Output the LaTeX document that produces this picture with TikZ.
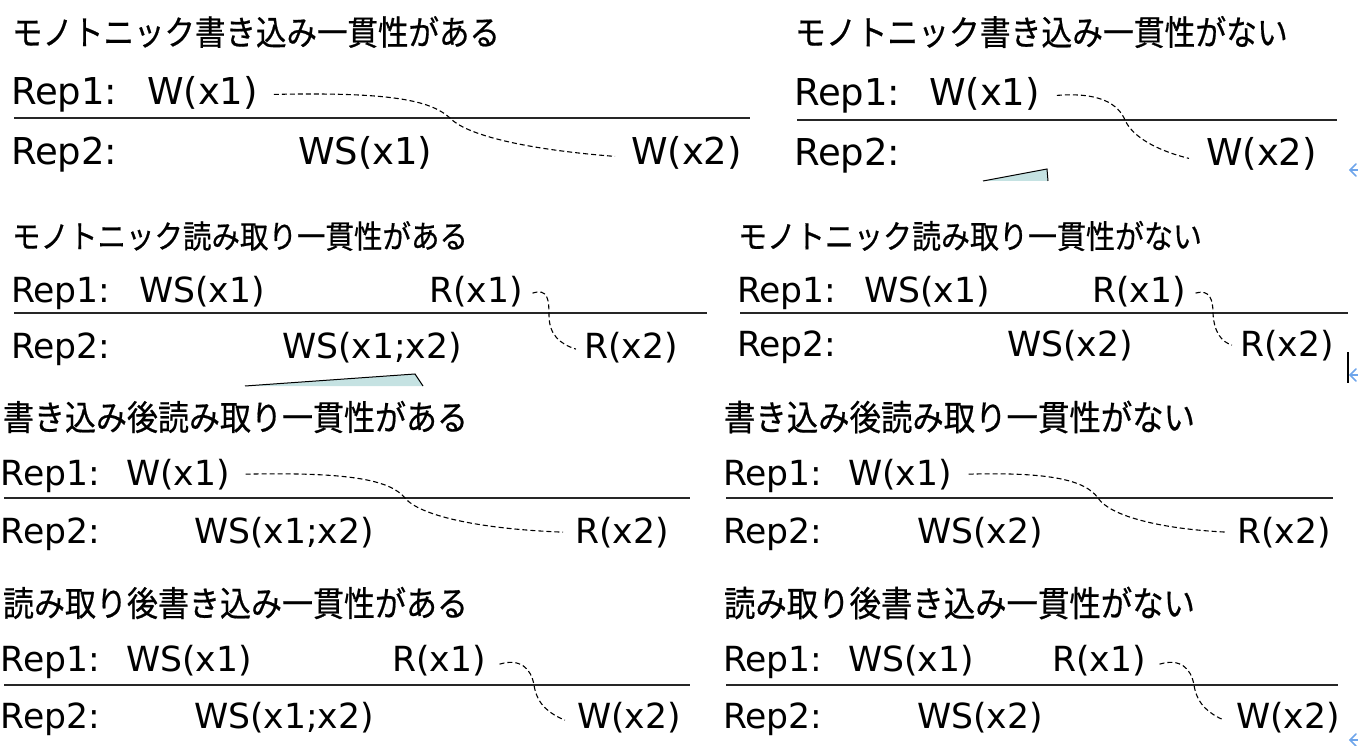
\documentclass[tikz,border=0pt]{standalone}
\usepackage{fontspec}
\setmainfont{DejaVu Sans}
\newfontfamily\jpfont[FakeBold=0.6]{Noto Sans CJK JP}
\definecolor{tealfill}{RGB}{197,226,226}
\definecolor{anchorblue}{RGB}{110,165,235}
\tikzset{
  lbl/.style={anchor=base west,inner sep=0pt,outer sep=0pt,font=\fontsize{34.6}{36}\selectfont},
  lblbig/.style={anchor=base west,inner sep=0pt,outer sep=0pt,font=\fontsize{37}{40}\selectfont},
  ttl/.style={anchor=west,inner sep=0pt,outer sep=0pt},
  sep/.style={line width=1.5pt,color=black!85},
  dsh/.style={line width=1.1pt,dash pattern=on 5pt off 3pt},
  wedge/.style={fill=tealfill},
  wedgeline/.style={line width=1pt}
}
\newcommand{\jt}[2]{\scalebox{1}[1.12]{\jpfont\fontsize{#1}{#1}\selectfont #2}}
\begin{document}
\begin{tikzpicture}[x=1pt,y=-1pt]
\useasboundingbox (0,0) rectangle (1358,746);

% ---------- Panel 1 ----------
\node[ttl] (t1) at (12,32) {\jt{30.5}{モノトニック書き込み一貫性がある}};
\node[lblbig] (p1r1) at (11,105) {Rep1:};
\node[lblbig] (p1w1) at (147,105) {W(x1)};
\node[lblbig] (p1r2) at (11,165) {Rep2:};
\node[lblbig] (p1ws) at (298,165) {WS(x1)};
\node[lblbig] (p1w2) at (631,165) {W(x2)};
\coordinate (p1a) at (14,118); \coordinate (p1b) at (750,118);
\draw[sep] (p1a) -- (p1b);
\draw[dsh] ([xshift=16pt,yshift=-1pt]p1w1.east) .. controls (390,92) and (430,100) .. (450,118)
  .. controls (465,134) and (520,149) .. ([xshift=-16pt,yshift=-3pt]p1w2.west);

% ---------- Panel 2 ----------
\node[ttl] (t2) at (795,32) {\jt{30.8}{モノトニック書き込み一貫性がない}};
\node[lblbig] (p2r1) at (794,106) {Rep1:};
\node[lblbig] (p2w1) at (929,106) {W(x1)};
\node[lblbig] (p2r2) at (794,166) {Rep2:};
\node[lblbig] (p2w2) at (1206,166) {W(x2)};
\coordinate (p2a) at (797,120); \coordinate (p2b) at (1337,120);
\draw[sep] (p2a) -- (p2b);
\draw[dsh] ([xshift=17pt,yshift=-1pt]p2w1.east) .. controls (1100,92) and (1118,104) .. (1125,120)
  .. controls (1132,136) and (1155,150) .. ([xshift=-17pt,yshift=-4pt]p2w2.west);
\fill[wedge] (983,181) -- (1047,169) -- (1048,181) -- cycle;
\draw[wedgeline] (983,181) -- (1047,169) -- (1048,181);

% ---------- Panel 3 ----------
\node[ttl] (t3) at (12,236) {\jt{28.5}{モノトニック読み取り一貫性がある}};
\node[lbl] (p3r1) at (11,302) {Rep1:};
\node[lbl] (p3ws1) at (139,302) {WS(x1)};
\node[lbl] (p3rx1) at (429,302) {R(x1)};
\node[lbl] (p3r2) at (11,358) {Rep2:};
\node[lbl] (p3ws2) at (282,358) {WS(x1;x2)};
\node[lbl] (p3rx2) at (584,358) {R(x2)};
\coordinate (p3a) at (14,313); \coordinate (p3b) at (707,313);
\draw[sep] (p3a) -- (p3b);
\draw[dsh] ([xshift=10pt,yshift=-2pt]p3rx1.east) .. controls (548,288) and (549,300) .. (549,315)
  .. controls (549,335) and (560,344) .. ([xshift=-8pt,yshift=-2pt]p3rx2.west);
\fill[wedge] (245,386) -- (415,374) -- (423,386) -- cycle;
\draw[wedgeline] (245,386) -- (415,374) -- (423,386);

% ---------- Panel 4 ----------
\node[ttl] (t4) at (738,236) {\jt{29}{モノトニック読み取り一貫性がない}};
\node[lbl] (p4r1) at (737,302) {Rep1:};
\node[lbl] (p4ws1) at (864,302) {WS(x1)};
\node[lbl] (p4rx1) at (1092,302) {R(x1)};
\node[lbl] (p4r2) at (737,356) {Rep2:};
\node[lbl] (p4ws2) at (1007,356) {WS(x2)};
\node[lbl] (p4rx2) at (1240,356) {R(x2)};
\coordinate (p4a) at (740,313); \coordinate (p4b) at (1348,313);
\draw[sep] (p4a) -- (p4b);
\draw[dsh] ([xshift=10pt,yshift=-2pt]p4rx1.east) .. controls (1210,289) and (1213,300) .. (1213,313)
  .. controls (1214,333) and (1222,342) .. ([xshift=-8pt]p4rx2.west);
\coordinate (cur1) at (1348,352); \coordinate (cur2) at (1348,383);
\draw[line width=1.6pt] (cur1) -- (cur2);

% ---------- Panel 5 ----------
\node[ttl] (t5) at (3,417) {\jt{31}{書き込み後読み取り一貫性がある}};
\node[lbl] (p5r1) at (1,485) {Rep1:};
\node[lbl] (p5w1) at (126,485) {W(x1)};
\node[lbl] (p5r2) at (1,543) {Rep2:};
\node[lbl] (p5ws) at (194,543) {WS(x1;x2)};
\node[lbl] (p5rx2) at (575,543) {R(x2)};
\coordinate (p5a) at (4,498); \coordinate (p5b) at (690,498);
\draw[sep] (p5a) -- (p5b);
\draw[dsh] ([xshift=16pt]p5w1.east) .. controls (350,472) and (390,480) .. (405,498)
  .. controls (420,516) and (480,529) .. ([xshift=-12pt]p5rx2.west);

% ---------- Panel 6 ----------
\node[ttl] (t6) at (724,417) {\jt{31.4}{書き込み後読み取り一貫性がない}};
\node[lbl] (p6r1) at (723,485) {Rep1:};
\node[lbl] (p6w1) at (848,485) {W(x1)};
\node[lbl] (p6r2) at (723,543) {Rep2:};
\node[lbl] (p6ws) at (917,543) {WS(x2)};
\node[lbl] (p6rx2) at (1237,543) {R(x2)};
\coordinate (p6a) at (726,498); \coordinate (p6b) at (1333,498);
\draw[sep] (p6a) -- (p6b);
\draw[dsh] ([xshift=17pt]p6w1.east) .. controls (1050,472) and (1085,480) .. (1098,498)
  .. controls (1110,516) and (1160,529) .. ([xshift=-10pt]p6rx2.west);

% ---------- Panel 7 ----------
\node[ttl] (t7) at (3,603) {\jt{31}{読み取り後書き込み一貫性がある}};
\node[lbl] (p7r1) at (1,671) {Rep1:};
\node[lbl] (p7ws1) at (126,671) {WS(x1)};
\node[lbl] (p7rx1) at (392,671) {R(x1)};
\node[lbl] (p7r2) at (1,728) {Rep2:};
\node[lbl] (p7ws2) at (194,728) {WS(x1;x2)};
\node[lbl] (p7w2) at (577,728) {W(x2)};
\coordinate (p7a) at (4,685); \coordinate (p7b) at (690,685);
\draw[sep] (p7a) -- (p7b);
\draw[dsh] ([xshift=14pt,yshift=-4pt]p7rx1.east) .. controls (520,658) and (531,668) .. (534,685)
  .. controls (537,705) and (550,714) .. ([xshift=-12pt,yshift=-3pt]p7w2.west);

% ---------- Panel 8 ----------
\node[ttl] (t8) at (724,603) {\jt{31.4}{読み取り後書き込み一貫性がない}};
\node[lbl] (p8r1) at (723,671) {Rep1:};
\node[lbl] (p8ws1) at (848,671) {WS(x1)};
\node[lbl] (p8rx1) at (1052,671) {R(x1)};
\node[lbl] (p8r2) at (723,728) {Rep2:};
\node[lbl] (p8ws2) at (917,728) {WS(x2)};
\node[lbl] (p8w2) at (1236,728) {W(x2)};
\coordinate (p8a) at (726,685); \coordinate (p8b) at (1338,685);
\draw[sep] (p8a) -- (p8b);
\draw[dsh] ([xshift=14pt,yshift=-4pt]p8rx1.east) .. controls (1180,658) and (1191,668) .. (1194,685)
  .. controls (1197,705) and (1210,714) .. ([xshift=-12pt,yshift=-3pt]p8w2.west);

% ---------- small anchor marks at right edge ----------
\foreach \yy/\nm in {170/m1,375/m2,740/m3}{
  \coordinate (\nm) at (1350,\yy);
  \draw[anchorblue,line width=1.6pt,line cap=round] ([xshift=6pt,yshift=-6pt]\nm) -- (\nm) -- ([xshift=6pt,yshift=6pt]\nm);
  \draw[anchorblue,line width=1.6pt] (\nm) -- ([xshift=10pt]\nm);
}
\end{tikzpicture}
\end{document}
